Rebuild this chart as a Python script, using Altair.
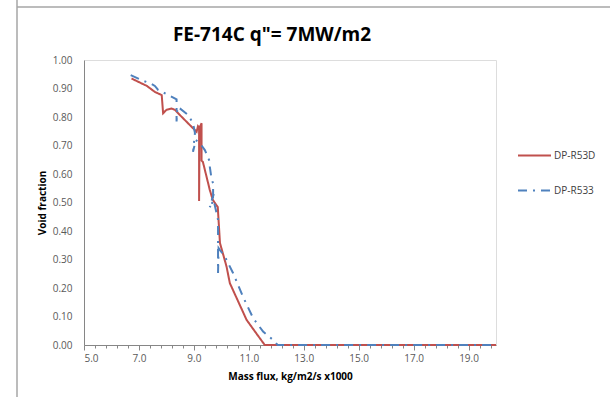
import altair as alt
import pandas as pd

FONT = "Open Sans, Lato, sans-serif"

chart_title = 'FE-714C q"= 7MW/m2'
series_names = ["DP-R53D", "DP-R533"]
series_colors = ["#C0504D", "#4F81BD"]

red_x = [6.73, 7.29, 7.47, 7.58, 7.83, 7.88, 8.00, 8.19, 8.31, 8.49, 8.85, 9.10,
         9.15, 9.19, 9.19, 9.21, 9.28, 9.28, 9.33, 9.58, 9.69, 9.87, 9.95, 10.19,
         10.31, 10.92, 11.58, 20.0]
red_y = [0.935, 0.909, 0.896, 0.888, 0.877, 0.813, 0.825, 0.830, 0.825, 0.807, 0.772, 0.748,
         0.768, 0.764, 0.505, 0.764, 0.778, 0.647, 0.642, 0.544, 0.509, 0.484, 0.358, 0.275,
         0.217, 0.088, 0.0, 0.0]

blue_x = [6.70, 7.16, 7.46, 7.58, 7.70, 8.07, 8.37, 8.37, 8.40, 8.49, 8.79, 8.97,
          9.04, 8.97, 9.07, 9.22, 9.40, 9.58, 9.58, 9.64, 9.70, 9.70, 9.66, 9.72,
          9.58, 9.74, 9.88, 9.88, 9.88, 9.90, 9.95, 10.13, 10.43, 10.79, 11.16, 11.52,
          11.88, 12.05, 20.0]
blue_y = [0.947, 0.927, 0.916, 0.909, 0.895, 0.877, 0.862, 0.784, 0.835, 0.830, 0.807, 0.778,
          0.744, 0.678, 0.719, 0.708, 0.684, 0.643, 0.626, 0.585, 0.567, 0.520, 0.495, 0.530,
          0.484, 0.500, 0.439, 0.368, 0.253, 0.340, 0.333, 0.310, 0.252, 0.169, 0.094, 0.047,
          0.018, 0.0, 0.0]

x_tick_values = [round(5 + 0.4 * i, 1) for i in range(38)]
y_tick_values = [round(0.1 * i, 1) for i in range(11)]

rows = []
for i, (xv, yv) in enumerate(zip(red_x, red_y)):
    rows.append({"x": xv, "y": yv, "series": series_names[0], "i": i})
for i, (xv, yv) in enumerate(zip(blue_x, blue_y)):
    rows.append({"x": xv, "y": yv, "series": series_names[1], "i": i})
df = pd.DataFrame(rows)

legend = alt.Legend(
    title=None, orient="none", legendX=433, legendY=78,
    symbolType="stroke", symbolSize=1089, symbolStrokeWidth=2,
    labelFont=FONT, labelFontSize=10, labelColor="#404040",
    rowPadding=12, labelOffset=2,
)

major_test = "abs((datum.value - 5) / 2 - round((datum.value - 5) / 2)) < 0.01"

x_axis = alt.Axis(
    values=x_tick_values,
    labelExpr=f"{major_test} ? format(datum.value, '.1f') : ''",
    tickSize={"condition": {"test": major_test, "value": 5}, "value": 3},
    labelFont=FONT, labelFontSize=10, labelColor="#595959", labelPadding=3,
    tickColor="#868686", domainColor="#868686", grid=False,
    title="Mass flux, kg/m2/s x1000", titleFont=FONT, titleFontSize=10,
    titleFontWeight="bold", titleColor="#000000", titlePadding=8,
)
y_axis = alt.Axis(
    values=y_tick_values, format=".2f", ticks=False,
    labelFont=FONT, labelFontSize=10, labelColor="#595959", labelPadding=12,
    domainColor="#868686", grid=False,
    title="Void fraction", titleFont=FONT, titleFontSize=10,
    titleFontWeight="bold", titleColor="#000000", titlePadding=5,
)

lines = alt.Chart(df).mark_line(strokeWidth=2, strokeJoin="miter").encode(
    x=alt.X("x:Q", scale=alt.Scale(domain=[5, 20], nice=False, zero=False), axis=x_axis),
    y=alt.Y("y:Q", scale=alt.Scale(domain=[0, 1], nice=False), axis=y_axis),
    color=alt.Color("series:N", scale=alt.Scale(domain=series_names, range=series_colors), legend=legend),
    strokeDash=alt.StrokeDash("series:N", scale=alt.Scale(domain=series_names, range=[[1, 0], [9, 6, 2, 6]]), legend=legend),
    order="i:Q",
)

one = alt.Data(values=[{}])
frame_h = alt.Chart(one).mark_rule(color="#a6a6a6", strokeWidth=1.5).encode(
    x=alt.value(-67), x2=alt.value(530), y=alt.value(-53)
)
frame_v = alt.Chart(one).mark_rule(color="#a6a6a6", strokeWidth=1.5).encode(
    x=alt.value(-67), y=alt.value(-60), y2=alt.value(337)
)
title_text = alt.Chart(alt.Data(values=[{"t": chart_title}])).mark_text(
    font=FONT, fontSize=19, fontWeight="bold", color="#000000",
    align="center", baseline="alphabetic",
).encode(text="t:N", x=alt.value(188), y=alt.value(-19))

chart = alt.layer(frame_h, frame_v, title_text, lines).properties(
    width=412, height=285,
    autosize=alt.AutoSizeParams(type="none"),
    padding={"left": 84, "top": 60, "right": 114, "bottom": 52},
).configure_view(stroke="#898989", strokeWidth=1).configure(background="white")

chart.save("out.html", embed_options={"renderer": "svg", "actions": False})
